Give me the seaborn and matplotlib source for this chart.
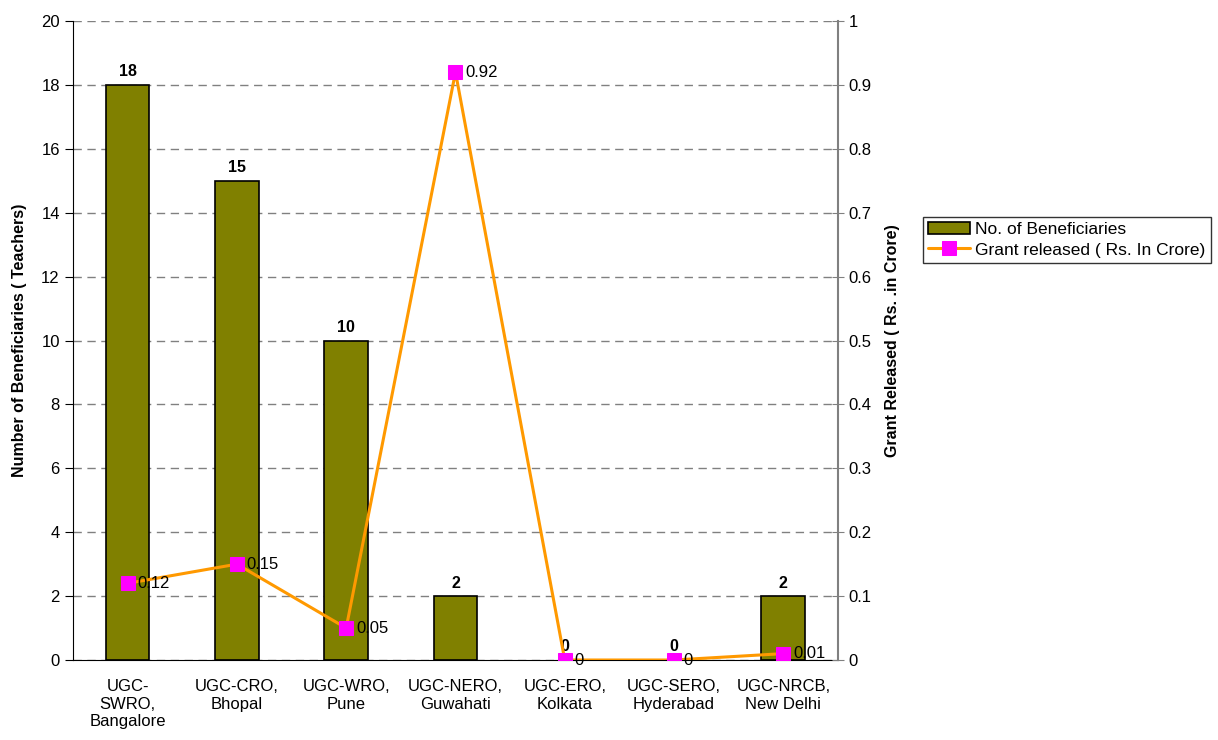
import numpy as np
import pandas as pd
import matplotlib
matplotlib.use('Agg')
import matplotlib.pyplot as plt
import seaborn as sns
from matplotlib.ticker import MultipleLocator, FixedLocator

# Data
offices = ['UGC-\nSWRO,\nBangalore', 'UGC-CRO,\nBhopal', 'UGC-WRO,\nPune', 'UGC-NERO,\nGuwahati',
           'UGC-ERO,\nKolkata', 'UGC-SERO,\nHyderabad', 'UGC-NRCB,\nNew Delhi']
beneficiaries = [18, 15, 10, 2, 0, 0, 2]
grant = [0.12, 0.15, 0.05, 0.92, 0, 0, 0.01]
grant_labels = ['0.12', '0.15', '0.05', '0.92', '0', '0', '0.01']

df = pd.DataFrame({'office': offices, 'beneficiaries': beneficiaries,
                   'grant': grant, 'pos': np.arange(len(offices))})

sns.set_style('white')
plt.rcParams['font.family'] = ['Liberation Sans', 'DejaVu Sans']
plt.rcParams['text.color'] = 'black'
plt.rcParams['axes.labelcolor'] = 'black'
plt.rcParams['xtick.color'] = 'black'
plt.rcParams['ytick.color'] = 'black'

fig = plt.figure(figsize=(12.18, 7.40), dpi=100)
ax = fig.add_axes([0.0599, 0.1081, 0.6281, 0.8635])

sns.barplot(data=df, x='pos', y='beneficiaries', color='#808000', edgecolor='black',
            linewidth=1.2, width=0.4, saturation=1, ax=ax, native_scale=True,
            label='No. of Beneficiaries')
if ax.get_legend() is not None:
    ax.get_legend().remove()
ax.set_xlim(-0.5, len(offices) - 0.5)
ax.set_ylim(0, 20)
ax.yaxis.set_major_locator(MultipleLocator(2))
ax.grid(axis='y', color='#808080', linestyle=(0, (6, 4)), linewidth=1)
ax.set_axisbelow(True)

# value labels on bars, no outline for empty bars
for c in ax.containers:
    for p in c.patches:
        if p.get_height() == 0:
            p.set_linewidth(0)
    ax.bar_label(c, fmt='%d', padding=4, fontsize=11.5, fontweight='bold')

ax.set_xticks(df['pos'])
ax.set_xticklabels(offices, fontsize=12)
ax.xaxis.set_minor_locator(FixedLocator(np.arange(-0.5, len(offices), 1)))
ax.tick_params(axis='x', which='major', length=0, pad=14)
ax.tick_params(axis='x', which='minor', length=6, color='black', direction='out')
ax.tick_params(axis='y', length=6, direction='out', color='black', labelsize=12)
ax.set_xlabel('')
ax.set_ylabel('Number of Beneficiaries ( Teachers)', fontsize=11.5,
              fontweight='bold', labelpad=10)
for s in ['top', 'right']:
    ax.spines[s].set_visible(False)
ax.spines['left'].set_color('black')
ax.spines['bottom'].set_color('black')

# secondary axis: grant released
ax2 = ax.twinx()
sns.lineplot(data=df, x='pos', y='grant', color='#FF9900', linewidth=2.2, marker='s',
             markersize=9.5, markerfacecolor='#FF00FF', markeredgecolor='#FF00FF',
             ax=ax2, label='Grant released ( Rs. In Crore)', legend=False)
ax2.set_ylim(0, 1)
ax2.set_xlim(-0.5, len(offices) - 0.5)
ax2.yaxis.set_major_locator(MultipleLocator(0.1))
ax2.yaxis.set_major_formatter(plt.FuncFormatter(lambda v, p: f'{v:.1f}' if 0 < round(v, 2) < 1 else f'{int(round(v))}'))
ax2.tick_params(axis='y', length=8, direction='inout', color='#808080', labelsize=12)
ax2.set_ylabel('Grant Released ( Rs. .in Crore)', fontsize=11.5,
               fontweight='bold', labelpad=10)
for s in ['top', 'left', 'bottom']:
    ax2.spines[s].set_visible(False)
ax2.spines['right'].set_color('#808080')
ax2.spines['right'].set_linewidth(1.5)

for x, y, t in zip(df['pos'], grant, grant_labels):
    ax2.annotate(t, (x, y), xytext=(7, 0), textcoords='offset points',
                 va='center', ha='left', fontsize=12)

h1, l1 = ax.get_legend_handles_labels()
h2, l2 = ax2.get_legend_handles_labels()
fig.legend(h1 + h2, l1 + l2, loc='center left', bbox_to_anchor=(0.758, 0.676),
           fontsize=12.5, frameon=True, fancybox=False, edgecolor='black',
           borderpad=0.3, handlelength=2.4, handletextpad=0.3, labelspacing=0.3,
           borderaxespad=0)

fig.savefig('out.png', dpi=100)
